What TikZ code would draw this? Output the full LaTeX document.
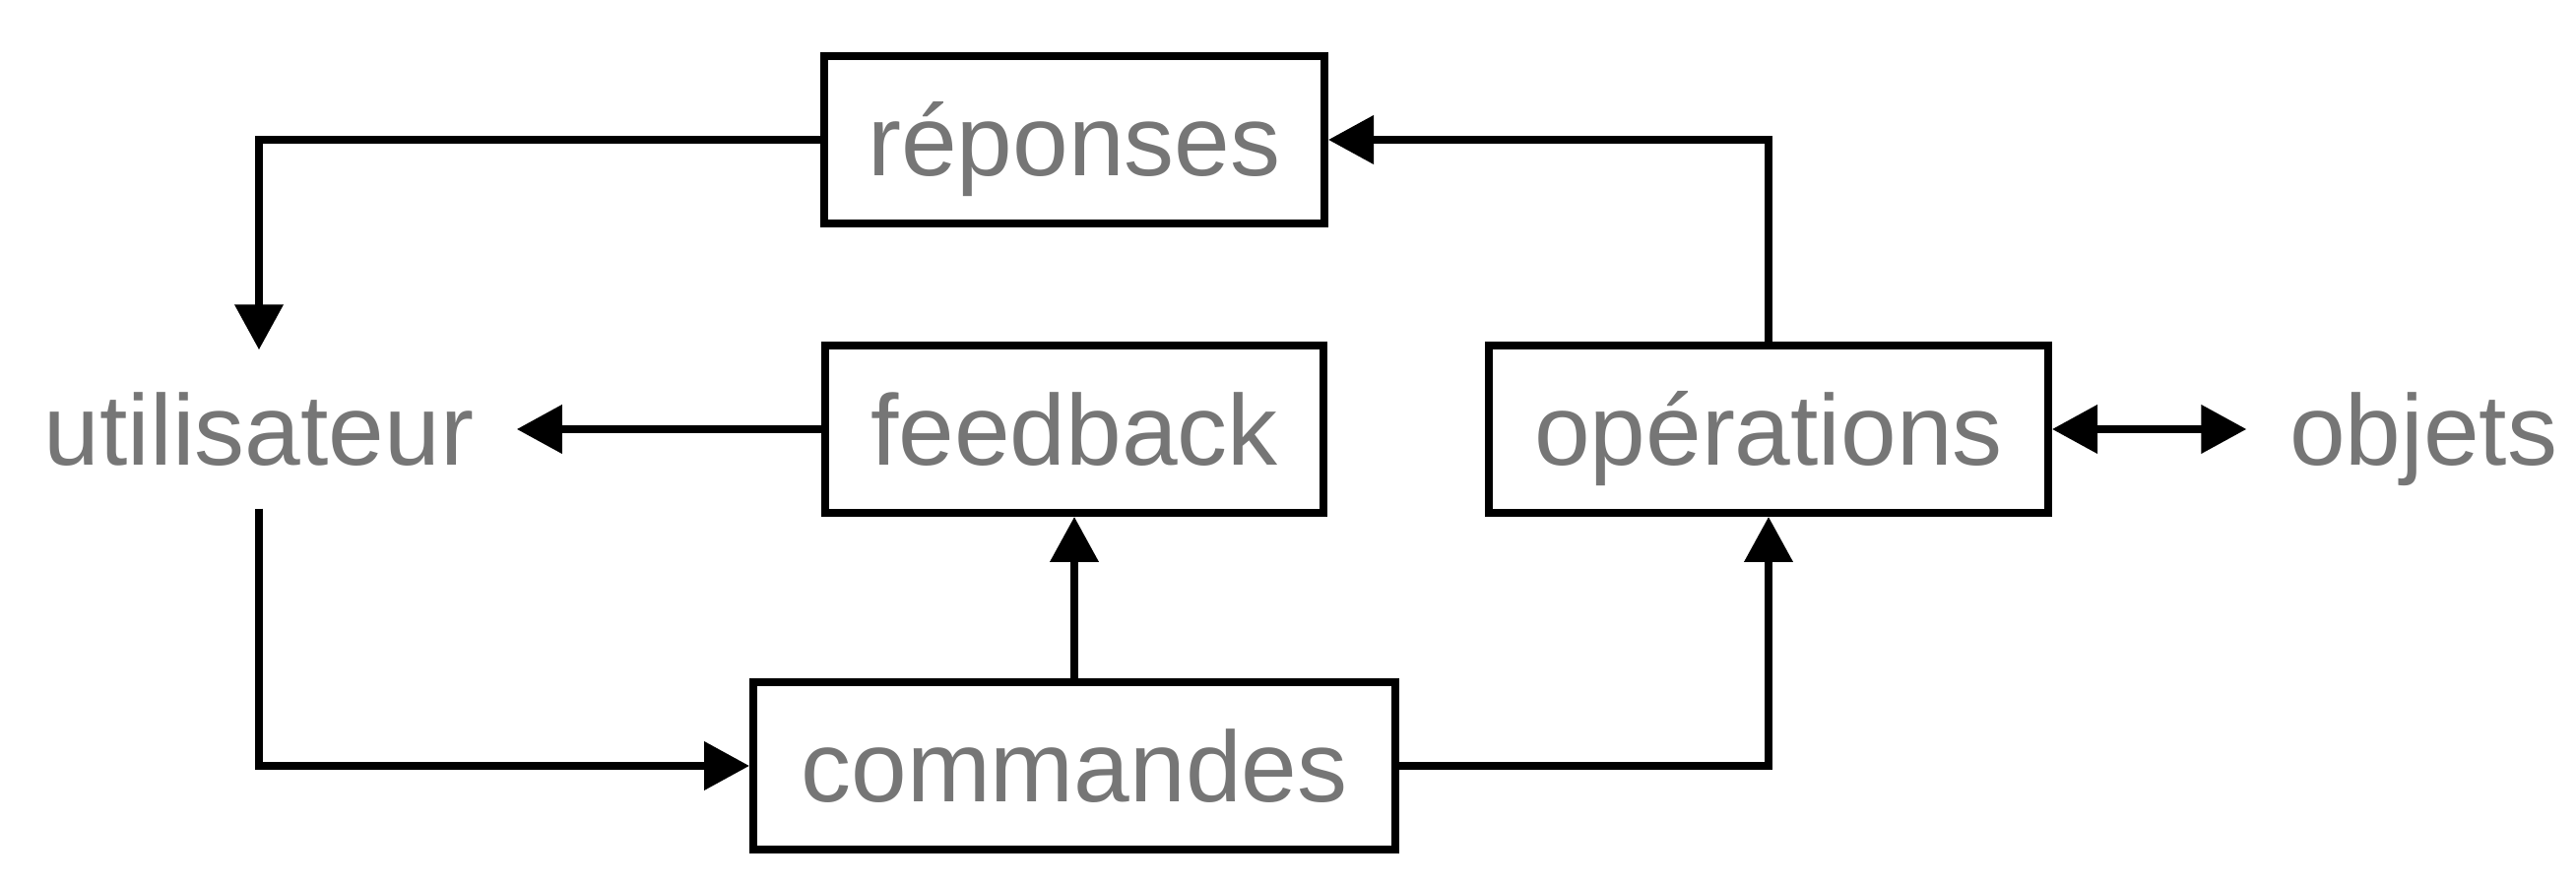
\documentclass[tikz,border=0pt]{standalone}
\usepackage{fontspec}
\setmainfont{Liberation Sans}
\usetikzlibrary{arrows.meta}
\definecolor{labelgray}{RGB}{118,118,118}

\begin{document}
\begin{tikzpicture}[x=0.1mm,y=0.1mm,
    every node/.style={font=\fontsize{29pt}{34pt}\selectfont,
      text=labelgray, text height=7.4mm, text depth=0pt},
    stage/.style={draw, line width=0.8mm, inner sep=0pt,
      minimum height=17mm},
    actor/.style={inner sep=4.3mm},
    flow/.style={line width=0.75mm,
      -{Triangle[length=4.6mm,width=4.8mm]}}]
  \useasboundingbox (0,0) rectangle (2616,898);
  % the four stages
  \node[stage, minimum width=50.8mm] (reponses) at (1091,756) {réponses};
  \node[stage, minimum width=50.6mm] (feedback) at (1091,462) {feedback};
  \node[stage, minimum width=56.8mm] (operations) at (1796,462) {opérations};
  \node[stage, minimum width=65.2mm] (commandes) at (1091,120) {commandes};
  % both ends
  \node[actor] (utilisateur) at (263,462) {utilisateur};
  \node[actor] (objets) at (2461,462) {objets};
  % flows
  \draw[flow] (reponses.west) -| (utilisateur.north);
  \draw[flow] (feedback.west) -- (feedback.west -| utilisateur.east);
  \draw[flow] (utilisateur.south) |- (commandes.west);
  \draw[flow] (commandes.north) -- (feedback.south);
  \draw[flow] (commandes.east) -| (operations.south);
  \draw[flow] (operations.north) |- (reponses.east);
  \draw[flow, {Triangle[length=4.6mm,width=4.8mm]}-{Triangle[length=4.6mm,width=4.8mm]}]
    (operations.east) -- (operations.east -| objets.west);
\end{tikzpicture}
\end{document}
